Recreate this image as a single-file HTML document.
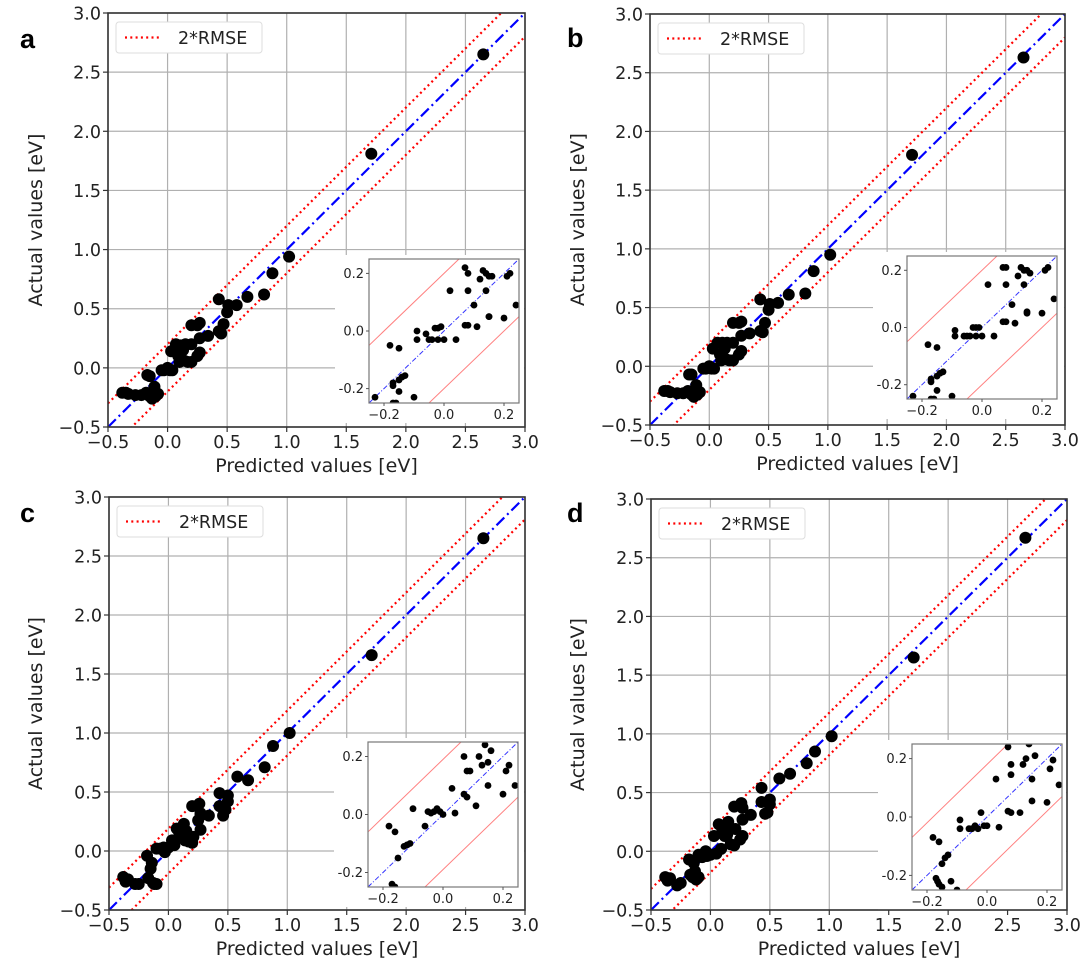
<!DOCTYPE html>
<html><head><meta charset="utf-8">
<style>
html,body{margin:0;padding:0;background:#fff;}
svg{display:block;font-family:"DejaVu Sans","Liberation Sans",sans-serif;}
</style></head>
<body>
<svg id="fig" width="1084" height="960" viewBox="0 0 1084 960" xmlns="http://www.w3.org/2000/svg"></svg>
<script>
// ---- data ----
const mainTicks = [-0.5, 0.0, 0.5, 1.0, 1.5, 2.0, 2.5, 3.0];
const mainTickLabels = ["\u22120.5","0.0","0.5","1.0","1.5","2.0","2.5","3.0"];
const insetTicks = [-0.2, 0.0, 0.2];
const insetXLabels = ["\u22120.2","0.0","0.2"];
const insetYLabels = ["-0.2","0.0","0.2"];
const panelLetters = ["a","b","c","d"];
const rmseBand = [0.2, 0.2, 0.19, 0.18];

const predA = [-0.38,-0.35,-0.33,-0.27,-0.22,-0.18,-0.17,-0.15,-0.15,-0.13,-0.12,-0.11,-0.10,-0.12,-0.08,-0.05,-0.03,0.00,0.02,0.04,0.03,0.07,0.09,0.10,0.11,0.13,0.15,0.14,0.17,0.20,0.20,0.20,0.25,0.27,0.25,0.27,0.27,0.34,0.43,0.43,0.45,0.47,0.50,0.51,0.58,0.67,0.81,0.88,1.02,1.71,2.65];
const actA = [-0.21,-0.21,-0.22,-0.23,-0.23,-0.21,-0.06,-0.07,-0.24,-0.26,-0.20,-0.16,-0.24,-0.23,-0.22,-0.02,-0.02,0.00,-0.02,-0.02,0.14,0.20,0.10,0.05,0.19,0.15,0.20,0.06,0.05,0.05,0.20,0.36,0.36,0.38,0.10,0.13,0.25,0.27,0.58,0.31,0.29,0.37,0.47,0.53,0.53,0.60,0.62,0.80,0.94,1.81,2.65];
const predB = predA;
const actB = [-0.21,-0.21,-0.22,-0.23,-0.23,-0.21,-0.07,-0.07,-0.24,-0.26,-0.20,-0.16,-0.24,-0.23,-0.22,-0.02,-0.02,0.00,-0.02,-0.02,0.15,0.20,0.10,0.05,0.20,0.15,0.20,0.06,0.05,0.05,0.20,0.37,0.37,0.38,0.10,0.13,0.26,0.28,0.57,0.30,0.29,0.37,0.48,0.53,0.54,0.61,0.62,0.81,0.95,1.80,2.63];
const predC = [-0.38,-0.36,-0.34,-0.28,-0.25,-0.18,-0.17,-0.15,-0.14,-0.13,-0.12,-0.10,-0.10,-0.07,-0.04,-0.03,0.00,0.03,0.05,0.07,0.09,0.10,0.12,0.13,0.15,0.14,0.17,0.20,0.21,0.20,0.26,0.27,0.25,0.27,0.27,0.34,0.43,0.43,0.46,0.48,0.50,0.50,0.58,0.67,0.81,0.88,1.02,1.71,2.65];
const actC = [-0.22,-0.26,-0.24,-0.28,-0.28,-0.04,-0.23,-0.15,-0.10,-0.27,-0.28,-0.28,0.02,0.02,0.03,-0.01,0.03,0.09,0.05,0.19,0.16,0.12,0.20,0.23,0.17,0.09,0.08,0.07,0.12,0.38,0.40,0.32,0.26,0.18,0.30,0.30,0.49,0.38,0.30,0.35,0.42,0.47,0.63,0.60,0.71,0.89,1.00,1.66,2.65];
const predD = predC;
const actD = [-0.22,-0.25,-0.23,-0.29,-0.27,-0.07,-0.20,-0.22,-0.10,-0.17,-0.24,-0.22,-0.03,-0.05,0.00,-0.04,-0.03,0.13,-0.02,0.23,0.02,0.17,0.13,0.20,0.25,0.14,0.06,0.05,0.19,0.38,0.41,0.37,0.10,0.13,0.27,0.31,0.54,0.42,0.32,0.33,0.40,0.44,0.62,0.66,0.75,0.85,0.98,1.65,2.67];

const insPredA = [-0.23,-0.18,-0.15,-0.17,-0.17,-0.15,-0.14,-0.13,-0.15,-0.17,-0.16,-0.10,-0.09,-0.09,-0.06,-0.05,-0.04,-0.03,-0.02,-0.02,-0.01,0.00,0.02,0.04,0.07,0.07,0.08,0.08,0.08,0.10,0.11,0.12,0.13,0.14,0.15,0.14,0.15,0.15,0.16,0.20,0.21,0.22,0.24];
const insActA = [-0.23,-0.05,-0.06,-0.19,-0.18,-0.17,-0.16,-0.155,-0.21,-0.25,-0.25,-0.23,0.00,-0.03,-0.01,-0.03,-0.03,0.01,0.01,-0.03,0.015,-0.03,0.14,-0.03,0.22,0.02,0.02,0.14,0.20,0.09,0.015,0.18,0.21,0.20,0.19,0.14,0.05,0.05,0.19,0.045,0.19,0.20,0.09];
const insPredB = insPredA;
const insActB = [-0.24,-0.06,-0.07,-0.19,-0.18,-0.17,-0.16,-0.155,-0.22,-0.25,-0.25,-0.24,-0.01,-0.03,-0.03,-0.03,-0.03,0.00,0.00,-0.03,0.00,-0.03,0.15,-0.03,0.21,0.02,0.02,0.15,0.21,0.08,0.015,0.18,0.21,0.20,0.20,0.15,0.05,0.055,0.19,0.05,0.20,0.21,0.10];
const insPredC = [-0.18,-0.16,-0.15,-0.13,-0.12,-0.11,-0.17,-0.16,-0.10,-0.06,-0.05,-0.04,-0.03,-0.02,-0.01,0.00,0.03,0.04,0.07,0.07,0.08,0.08,0.09,0.11,0.12,0.13,0.14,0.15,0.15,0.16,0.20,0.21,0.22,0.24];
const insActC = [-0.04,-0.06,-0.15,-0.11,-0.105,-0.10,-0.24,-0.25,0.02,-0.04,0.01,0.005,0.01,0.02,0.01,0.00,0.09,0.005,0.20,0.07,0.15,0.06,0.15,0.03,0.20,0.17,0.24,0.10,0.18,0.22,0.07,0.15,0.17,0.10];
const insPredD = [-0.18,-0.16,-0.15,-0.14,-0.13,-0.17,-0.165,-0.16,-0.15,-0.12,-0.10,-0.09,-0.09,-0.06,-0.05,-0.04,-0.03,-0.02,-0.01,0.00,0.03,0.04,0.07,0.07,0.08,0.08,0.08,0.11,0.12,0.13,0.14,0.15,0.15,0.16,0.20,0.21,0.22,0.24];
const insActD = [-0.07,-0.085,-0.16,-0.14,-0.13,-0.21,-0.22,-0.23,-0.24,-0.22,-0.25,-0.01,-0.04,-0.04,-0.04,-0.03,-0.04,0.015,-0.03,-0.03,0.13,-0.035,0.24,0.02,0.145,0.015,0.18,0.015,0.18,0.20,0.25,0.13,0.055,0.21,0.05,0.165,0.195,0.11];

const mainPred = [predA, predB, predC, predD];
const mainAct = [actA, actB, actC, actD];
const insPred = [insPredA, insPredB, insPredC, insPredD];
const insAct = [insActA, insActB, insActC, insActD];

// ---- layout ----
const layouts = [
  {L:108,R:525,T:13,B:427, iL:369,iR:519,iT:259,iB:403, lx:20, ly:48, ylx:36},
  {L:650,R:1065,T:14,B:425, iL:907,iR:1057,iT:256,iB:399, lx:567, ly:47, ylx:578},
  {L:109,R:525,T:497,B:910, iL:368,iR:518,iT:742,iB:887, lx:20, ly:522, ylx:36},
  {L:651,R:1067,T:499,B:910, iL:912,iR:1062,iT:744,iB:890, lx:567, ly:522, ylx:578}
];

const NS = "http://www.w3.org/2000/svg";
const svg = document.getElementById("fig");
function mk(tag, attrs, parent, text){
  const e = document.createElementNS(NS, tag);
  for (const k in attrs) e.setAttribute(k, attrs[k]);
  if (text !== undefined) e.textContent = text;
  parent.appendChild(e);
  return e;
}

layouts.forEach((P, pi) => {
  const g = mk("g", {}, svg);
  
  
  const sx = v => P.L + (v + 0.5) / 3.5 * (P.R - P.L);
  const sy = v => P.B - (v + 0.5) / 3.5 * (P.B - P.T);
  const cid = "clip" + pi;
  const cp = mk("clipPath", {id: cid}, g);
  mk("rect", {x:P.L, y:P.T, width:P.R-P.L, height:P.B-P.T}, cp);

  const grid = mk("g", {stroke:"#b0b0b0", "stroke-width":1.2}, g);
  
  
  mainTicks.forEach(t => {
    mk("line", {x1:sx(t), x2:sx(t), y1:P.T, y2:P.B}, grid);
    mk("line", {x1:P.L, x2:P.R, y1:sy(t), y2:sy(t)}, grid);
  });

  const lines = mk("g", {"clip-path":"url(#"+cid+")"}, g);
  const band = rmseBand[pi];
  const up = mk("line", {x1:sx(-0.5), y1:sy(-0.5+band), x2:sx(3.0), y2:sy(3.0+band), stroke:"#ff0000", "stroke-width":2.2, "stroke-dasharray":"2 3.3"}, lines);
  
  
  const lo = mk("line", {x1:sx(-0.5), y1:sy(-0.5-band), x2:sx(3.0), y2:sy(3.0-band), stroke:"#ff0000", "stroke-width":2.2, "stroke-dasharray":"2 3.3"}, lines);
  
  
  const id = mk("line", {x1:sx(-0.5), y1:sy(-0.5), x2:sx(3.0), y2:sy(3.0), stroke:"#0000ff", "stroke-width":2.2, "stroke-dasharray":"11 4 2 4"}, lines);
  
  

  const pts = mk("g", {fill:"#000", "clip-path":"url(#"+cid+")"}, g);
  
  
  mainPred[pi].forEach((xv, i) => {
    const c = mk("circle", {cx:sx(xv), cy:sy(mainAct[pi][i]), r:6}, pts);
    
    
  });

  const ibg = mk("rect", {x:P.iL-34, y:P.iT-4, width:P.R-P.iL+34-1, height:P.iB-P.iT+24, fill:"#fff"}, g);
  
  

  const sp = mk("rect", {x:P.L, y:P.T, width:P.R-P.L, height:P.B-P.T, fill:"none", stroke:"#333", "stroke-width":1.6}, g);
  
  

  const tk = mk("g", {"font-size":17.5, fill:"#222"}, g);
  mainTicks.forEach((t, i) => {
    mk("line", {x1:sx(t), x2:sx(t), y1:P.B, y2:P.B+5, stroke:"#333", "stroke-width":1.2}, tk);
    mk("line", {x1:P.L-5, x2:P.L, y1:sy(t), y2:sy(t), stroke:"#333", "stroke-width":1.2}, tk);
    const xl = mk("text", {x:sx(t), y:P.B+21, "text-anchor":"middle"}, tk, mainTickLabels[i]);
    
    
    const yl = mk("text", {x:P.L-7, y:sy(t)+6.5, "text-anchor":"end"}, tk, mainTickLabels[i]);
    
    
  });
  const xt = mk("text", {x:(P.L+P.R)/2, y:P.B+45, "text-anchor":"middle", "font-size":19, fill:"#222"}, g, "Predicted values [eV]");
  
  
  const yt = mk("text", {x:0, y:0, "text-anchor":"middle", "font-size":19, fill:"#222", transform:"translate("+(P.ylx+6)+","+((P.T+P.B)/2)+") rotate(-90)"}, g, "Actual values [eV]");
  
  

  const lg = mk("g", {}, g);
  
  
  mk("rect", {x:P.L+8, y:P.T+9, width:146, height:31, rx:3, fill:"#fff", stroke:"#ddd", "stroke-width":1}, lg);
  mk("line", {x1:P.L+17, x2:P.L+54, y1:P.T+24.5, y2:P.T+24.5, stroke:"#ff0000", "stroke-width":2.2, "stroke-dasharray":"2 3.3"}, lg);
  const lt = mk("text", {x:P.L+70, y:P.T+31, "font-size":17.5, fill:"#222"}, lg, "2*RMSE");
  
  

  const pl = mk("text", {x:P.lx, y:P.ly, "font-size":27, "font-weight":"bold", fill:"#000", "font-family":"Liberation Sans, sans-serif"}, g, panelLetters[pi]);
  
  

  const ig = mk("g", {}, g);
  
  
  const ix = v => P.iL + (v + 0.25) / 0.5 * (P.iR - P.iL);
  const iy = v => P.iB - (v + 0.25) / 0.5 * (P.iB - P.iT);
  const icid = "iclip" + pi;
  const icp = mk("clipPath", {id: icid}, ig);
  mk("rect", {x:P.iL, y:P.iT, width:P.iR-P.iL, height:P.iB-P.iT}, icp);
  const il = mk("g", {"clip-path":"url(#"+icid+")"}, ig);
  mk("line", {x1:ix(-0.25), y1:iy(-0.25+band), x2:ix(0.25), y2:iy(0.25+band), stroke:"#ff8080", "stroke-width":1}, il);
  mk("line", {x1:ix(-0.25), y1:iy(-0.25-band), x2:ix(0.25), y2:iy(0.25-band), stroke:"#ff8080", "stroke-width":1}, il);
  mk("line", {x1:ix(-0.25), y1:iy(-0.25), x2:ix(0.25), y2:iy(0.25), stroke:"#3333ff", "stroke-width":1, "stroke-dasharray":"5 2 1 2"}, il);
  insPred[pi].forEach((xv, i) => {
    const c = mk("circle", {cx:ix(xv), cy:iy(insAct[pi][i]), r:3.4, fill:"#000"}, il);
    
    
  });
  mk("rect", {x:P.iL, y:P.iT, width:P.iR-P.iL, height:P.iB-P.iT, fill:"none", stroke:"#777", "stroke-width":1.2}, ig);
  insetTicks.forEach((t, i) => {
    mk("line", {x1:ix(t), x2:ix(t), y1:P.iB, y2:P.iB+3, stroke:"#555"}, ig);
    mk("line", {x1:P.iL-3, x2:P.iL, y1:iy(t), y2:iy(t), stroke:"#555"}, ig);
    const a = mk("text", {x:ix(t), y:P.iB+16, "text-anchor":"middle", "font-size":13, fill:"#222"}, ig, insetXLabels[i]);
    
    
    const b = mk("text", {x:P.iL-5, y:iy(t)+4.5, "text-anchor":"end", "font-size":13, fill:"#222"}, ig, insetYLabels[i]);
    
    
  });
});
</script>
</body></html>
